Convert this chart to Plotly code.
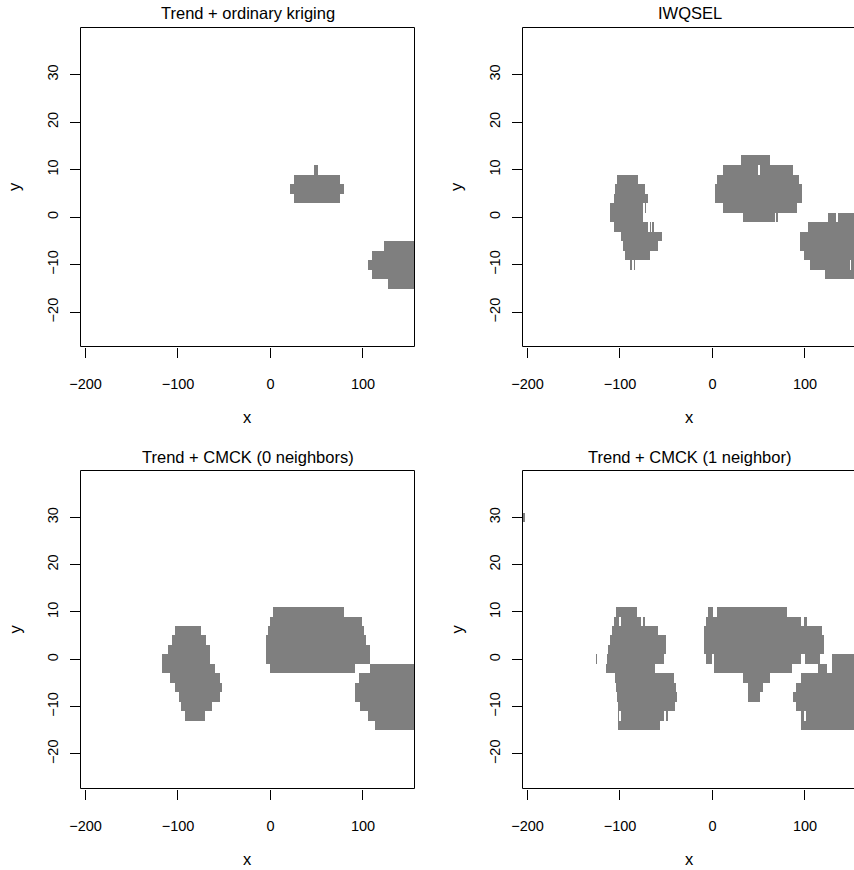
import plotly.graph_objects as go

# ---- data -------------------------------------------------------------
x_ticks = [-200, -100, 0, 100]
y_ticks = [-20, -10, 0, 10, 20, 30]

panel_titles = [
    "Trend + ordinary kriging",
    "IWQSEL",
    "Trend + CMCK (0 neighbors)",
    "Trend + CMCK (1 neighbor)",
]

# Exceedance regions: for each grid row (centre y, rows are 2 units tall)
# the x-intervals flagged as 1.
kriging_cells = {
    10: [(47, 51)],
    8: [(25, 75)],
    6: [(21, 79)],
    4: [(25, 75)],
    -6: [(123, 156)],
    -8: [(109, 156)],
    -10: [(105, 156)],
    -12: [(109, 156)],
    -14: [(127, 156)],
}

iwqsel_cells = {
    12: [(31, 62)],
    10: [(11, 49.5), (51.5, 87)],
    8: [(-103, -81), (5, 93)],
    6: [(-105, -73), (3, 97)],
    4: [(-107, -70), (3, 97)],
    2: [(-111, -75), (-73.5, -71.5), (11, 91)],
    0: [(-111, -75), (33, 67), (69, 70.5), (125, 133), (135, 156)],
    -2: [(-107, -70), (-68, -66.5), (-65, -63), (103, 156)],
    -4: [(-99, -55), (94, 156)],
    -6: [(-97, -59), (94, 156)],
    -8: [(-95, -68), (99, 156)],
    -10: [(-89, -87.5), (-85, -83.5), (105, 148), (149.5, 156)],
    -12: [(121, 156)],
}

cmck0_cells = {
    10: [(3, 79)],
    8: [(-1, 99)],
    6: [(-103, -75), (-3, 101)],
    4: [(-107, -70), (-5, 103)],
    2: [(-111, -65), (-5, 107)],
    0: [(-117, -65), (-5, 107)],
    -2: [(-117, -60), (-1, 91), (107, 156)],
    -4: [(-109, -55), (95, 156)],
    -6: [(-103, -53), (91, 156)],
    -8: [(-99, -55), (91, 156)],
    -10: [(-97, -63), (97, 156)],
    -12: [(-93, -71), (105, 156)],
    -14: [(113, 156)],
}

cmck1_cells = {
    30: [(-205.5, -203)],
    10: [(-104, -82), (-5, 0), (5, 80)],
    8: [(-106.5, -101), (-99, -77), (-75, -73), (-7, 95), (99, 102)],
    6: [(-108.5, -59), (-9, 118)],
    4: [(-111, -50), (-9, 120)],
    2: [(-113, -50), (-9, 120)],
    0: [(-126.5, -124.5), (-114, -53), (-7, -1), (2, 96), (100, 116.5), (129, 156)],
    -2: [(-115, -62), (1.5, 86), (114, 124), (129, 156)],
    -4: [(-106, -42), (33, 62), (96, 156)],
    -6: [(-104, -40), (38.5, 54.5), (90, 156)],
    -8: [(-103, -39), (38.5, 51), (87, 156)],
    -10: [(-102, -41), (90, 156)],
    -12: [(-102, -101), (-99, -52), (-50, -48), (95, 98.5), (100.5, 156)],
    -14: [(-102, -57), (95, 156)],
}

panel_cells = [kriging_cells, iwqsel_cells, cmck0_cells, cmck1_cells]

# ---- grid ---------------------------------------------------------------
DX = 0.5
X_START = -206.0
N_COL = 726
Y_ROWS = list(range(-26, 40, 2))
x_centres = [X_START + DX / 2 + DX * i for i in range(N_COL)]


def to_grid(cells):
    z = []
    for yc in Y_ROWS:
        spans = cells.get(yc, [])
        row = []
        for xc in x_centres:
            hit = any(a <= xc <= b for a, b in spans)
            row.append(1 if hit else None)
        z.append(row)
    return z


# ---- layout geometry (pixels of an 854 x 870 page) ---------------------
W, H = 854, 870
GRAY = "#7f7f7f"
FONT = "Liberation Sans, Arial, Helvetica, sans-serif"

left_cols = [(80.5, 414.5), (522.5, 854.0)]
rows_px = [(27.5, 346.5), (470.5, 788.5)]
x_ranges = [[-205.4, 155.7], [-205.4, 153.0]]
y_ranges = [[-27.2, 39.9], [-27.3, 39.9]]
box_right = [414.5, 858.0]
title_cx = [247.5, 689.5]

fig = go.Figure()
shapes = []
annotations = []

for k in range(4):
    r, c = divmod(k, 2)
    idx = "" if k == 0 else str(k + 1)
    xa, ya = "x" + idx, "y" + idx
    x0p, x1p = left_cols[c]
    y0p, y1p = rows_px[r]

    fig.add_trace(go.Heatmap(
        z=to_grid(panel_cells[k]),
        x0=X_START + DX / 2, dx=DX,
        y0=Y_ROWS[0], dy=2,
        zmin=0, zmax=1,
        colorscale=[[0, GRAY], [1, GRAY]],
        showscale=False, hoverinfo="skip",
        xaxis=xa, yaxis=ya,
    ))

    common = dict(
        showgrid=False, zeroline=False, showline=False, automargin=False,
        ticks="outside", ticklen=10, tickwidth=1, tickcolor="black",
        tickfont=dict(family=FONT, size=14.5, color="black"),
        fixedrange=True,
    )
    fig.layout["xaxis" + idx] = dict(
        domain=[x0p / W, x1p / W], range=x_ranges[c], anchor=ya,
        tickvals=x_ticks, ticklabelstandoff=14, **common,
    )
    fig.layout["yaxis" + idx] = dict(
        domain=[1 - y1p / H, 1 - y0p / H], range=y_ranges[r], anchor=xa,
        tickvals=y_ticks, tickangle=-90, ticklabelstandoff=6, **common,
    )

    # plot frame
    shapes.append(dict(
        type="rect", xref="paper", yref="paper",
        x0=x0p / W, x1=box_right[c] / W, y0=1 - y1p / H, y1=1 - y0p / H,
        line=dict(color="black", width=1), fillcolor="rgba(0,0,0,0)",
        layer="above",
    ))

    # panel title
    annotations.append(dict(
        text=panel_titles[k], xref="paper", yref="paper",
        x=title_cx[c] / W, y=1 - (y0p - 14) / H,
        xanchor="center", yanchor="middle", showarrow=False,
        font=dict(family=FONT, size=16.5, color="black"),
    ))
    # axis titles
    annotations.append(dict(
        text="x", xref="paper", yref="paper",
        x=title_cx[c] / W, y=1 - (y1p + 70) / H,
        xanchor="center", yanchor="middle", showarrow=False,
        font=dict(family=FONT, size=16.5, color="black"),
    ))
    annotations.append(dict(
        text="y", xref="paper", yref="paper",
        x=(x0p - 66.5) / W, y=1 - ((y0p + y1p) / 2) / H,
        xanchor="center", yanchor="middle", showarrow=False, textangle=-90,
        font=dict(family=FONT, size=16.5, color="black"),
    ))

fig.update_layout(
    width=W, height=H,
    margin=dict(l=0, r=0, t=0, b=0, autoexpand=False),
    paper_bgcolor="white", plot_bgcolor="white",
    shapes=shapes, annotations=annotations,
    showlegend=False,
)

fig.write_html("out.html", config={"displayModeBar": False})
